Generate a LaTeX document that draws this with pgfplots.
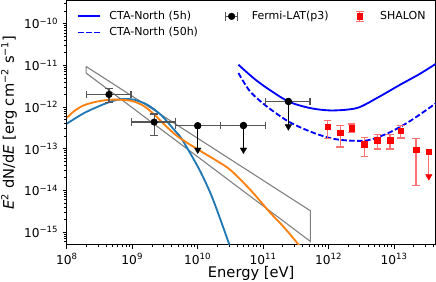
\documentclass[border=0pt]{standalone}
\usepackage{fontspec}
\setmainfont{DejaVu Sans}
\usepackage{pgfplots}
\usepackage{pgfplotstable}
\pgfplotsset{compat=1.18}
\definecolor{tabblue}{HTML}{1F77B4}
\definecolor{taborange}{HTML}{FF7F0E}
\definecolor{errgray}{HTML}{555555}
\definecolor{errred}{HTML}{FF7070}
\newcommand{\sups}[1]{\textsuperscript{#1}}

\pgfplotstableread{
x y xp xm yp ym xlo xhi ylo yhi
4.4e8 2.0e-12 5.2e8 2.4e8 0.75e-12 0.7e-12 2.0e8 9.6e8 1.3e-12 2.75e-12
2.16e9 4.36e-13 2.47e9 1.18e9 2.44e-13 2.28e-13 9.8e8 4.63e9 2.08e-13 6.8e-13
}\fermidet

\pgfplotstableread{
x y xp xm ym yend xlo xhi
1.0e10 3.56e-13 1.25e10 5.37e9 2.62e-13 9.4e-14 4.63e9 2.25e10
5.0e10 3.6e-13 6.0e10 2.75e10 2.66e-13 9.4e-14 2.25e10 1.1e11
2.43e11 1.36e-12 2.77e11 1.33e11 1.02e-12 3.4e-13 1.1e11 5.2e11
}\fermiul

\pgfplotstableread{
x y yp ym ylo yhi
9.7e11 3.31e-13 1.46e-13 1.58e-13 1.73e-13 4.77e-13
1.50e12 2.38e-13 1.24e-13 1.28e-13 1.10e-13 3.62e-13
2.26e12 3.13e-13 0.78e-13 0.67e-13 2.46e-13 3.91e-13
3.52e12 1.29e-13 0.57e-13 0.65e-13 0.64e-13 1.86e-13
5.57e12 1.58e-13 0.58e-13 0.60e-13 0.98e-13 2.16e-13
8.7e12 1.58e-13 0.62e-13 0.60e-13 0.98e-13 2.20e-13
1.27e13 2.70e-13 0.86e-13 0.90e-13 1.80e-13 3.56e-13
2.17e13 9.4e-14 7.9e-14 8.11e-14 1.29e-14 1.73e-13
}\shalon

\pgfplotstableread{
x y ym yend
3.4e13 8.45e-14 6.29e-14 2.16e-14
}\shalonul

\begin{document}
\begin{tikzpicture}
\begin{axis}[
  name=ax,
  xmode=log, ymode=log,
  scale only axis, width=301.9pt, height=200pt,
  xmin=1e8, xmax=4.3e13, ymin=4.96e-16, ymax=3.6e-10,
  axis line style={line width=0.8pt},
  tick align=outside, xtick pos=bottom, ytick pos=left,
  major tick length=3.5pt, minor tick length=2pt,
  every major tick/.append style={line width=0.8pt, black},
  every minor tick/.append style={line width=0.6pt, black},
  xtick={1e8,1e9,1e10,1e11,1e12,1e13},
  xticklabels={10\sups{8},10\sups{9},10\sups{10},10\sups{11},10\sups{12},10\sups{13}},
  ytick={1e-15,1e-14,1e-13,1e-12,1e-11,1e-10},
  yticklabels={10\sups{−15},10\sups{−14},10\sups{−13},10\sups{−12},10\sups{−11},10\sups{−10}},
  minor xtick={2e8,3e8,4e8,5e8,6e8,7e8,8e8,9e8,2e9,3e9,4e9,5e9,6e9,7e9,8e9,9e9,2e10,3e10,4e10,5e10,6e10,7e10,8e10,9e10,2e11,3e11,4e11,5e11,6e11,7e11,8e11,9e11,2e12,3e12,4e12,5e12,6e12,7e12,8e12,9e12,2e13,3e13,4e13},
  minor ytick={6e-16,7e-16,8e-16,9e-16,2e-15,3e-15,4e-15,5e-15,6e-15,7e-15,8e-15,9e-15,2e-14,3e-14,4e-14,5e-14,6e-14,7e-14,8e-14,9e-14,2e-13,3e-13,4e-13,5e-13,6e-13,7e-13,8e-13,9e-13,2e-12,3e-12,4e-12,5e-12,6e-12,7e-12,8e-12,9e-12,2e-11,3e-11,4e-11,5e-11,6e-11,7e-11,8e-11,9e-11,2e-10,3e-10},
  ticklabel style={font=\fontsize{10}{12}\selectfont},
  xlabel={Energy [eV]},
  ylabel={\textit{E}\sups{2} dN/d\textit{E} [erg cm\sups{−2} s\sups{−1}]},
  label style={font=\fontsize{12}{14}\selectfont},
  xlabel style={at={(axis description cs:0.5,-0.134)}, anchor=base},
  ylabel style={at={(axis description cs:-0.1567,0.5)}, anchor=center},
  legend columns=3,
  legend cell align=left,
  legend style={at={(axis description cs:0,1)}, anchor=north west, xshift=8.4pt, yshift=-8.3pt,
    draw=none, fill=none, inner sep=0pt, font=\fontsize{9}{11}\selectfont,
    row sep=4.5pt, nodes={inner sep=0pt, text height=6.6pt, text depth=1.9pt},
    /tikz/every even column/.append style={column sep=22pt}},
]
% Fermi butterfly
\addplot[gray, line width=0.9pt, forget plot] coordinates {(1.97e8,9.4e-12) (5.27e11,3.24e-15) (5.27e11,5.96e-16) (1.97e8,6.55e-12) (1.97e8,9.4e-12)};
% model curves
\addplot[tabblue, line width=1.5pt, smooth, forget plot] coordinates {
(1.00e8,3.98e-13) (1.84e8,7.18e-13) (3.72e8,1.18e-12) (5.93e8,1.50e-12) (7.94e8,1.55e-12) (1.07e9,1.50e-12) (1.70e9,1.135e-12) (2.73e9,6.53e-13) (4.36e9,2.85e-13) (5.38e9,1.97e-13) (7.66e9,7.87e-14) (1.10e10,2.82e-14) (1.55e10,8.91e-15) (2.00e10,3.16e-15) (3.05e10,4.97e-16) (3.55e10,2.5e-16)};
\addplot[taborange, line width=1.5pt, smooth, forget plot] coordinates {
(1.00e8,5.50e-13) (1.29e8,7.94e-13) (1.82e8,1.10e-12) (2.95e8,1.36e-12) (4.68e8,1.50e-12) (7.50e8,1.48e-12) (1.07e9,1.35e-12) (1.51e9,1.05e-12) (2.14e9,6.76e-13) (3.09e9,3.80e-13) (4.79e9,2.04e-13) (7.59e9,1.26e-13) (1.23e10,7.94e-14) (2.00e10,5.01e-14) (3.16e10,3.09e-14) (6.31e10,1.05e-14) (1.29e11,2.88e-15) (2.04e11,1.35e-15) (3.47e11,5.01e-16) (4.17e11,3.4e-16)};
% CTA sensitivities
\addplot[blue, line width=1.5pt, smooth, forget plot] coordinates {
(4.19e10,1.035e-11) (7.1e10,4.97e-12) (1.14e11,2.86e-12) (2.43e11,1.36e-12) (5.21e11,9.46e-13) (1.12e12,8.28e-13) (2.70e12,9.46e-13) (5.45e12,1.64e-12) (1.24e13,3.43e-12) (2.50e13,6.31e-12) (4.39e13,1.10e-11)};
\addplot[blue, line width=1.5pt, dash pattern=on 4.5pt off 2pt, smooth, forget plot] coordinates {
(4.19e10,6.55e-12) (6.31e10,2.37e-12) (1.14e11,1.03e-12) (2.43e11,4.51e-13) (5.21e11,2.59e-13) (1.05e12,1.80e-13) (1.90e12,1.58e-13) (3.84e12,1.58e-13) (7.74e12,2.29e-13) (1.57e13,4.13e-13) (3.16e13,8.61e-13) (4.39e13,1.25e-12)};
% Fermi caps
\addplot[only marks, mark=|, errgray, mark size=3pt, mark options={line width=1pt}, forget plot] table[x=xlo, y=y] {\fermidet};
\addplot[only marks, mark=|, errgray, mark size=3pt, mark options={line width=1pt}, forget plot] table[x=xhi, y=y] {\fermidet};
\addplot[only marks, mark=-, errgray, mark size=3pt, mark options={line width=1pt}, forget plot] table[x=x, y=ylo] {\fermidet};
\addplot[only marks, mark=-, errgray, mark size=3pt, mark options={line width=1pt}, forget plot] table[x=x, y=yhi] {\fermidet};
\addplot[only marks, mark=|, errgray, mark size=3pt, mark options={line width=1pt}, forget plot] table[x=xlo, y=y] {\fermiul};
\addplot[only marks, mark=|, errgray, mark size=3pt, mark options={line width=1pt}, forget plot] table[x=xhi, y=y] {\fermiul};
% Fermi points
\addplot[only marks, mark=*, black, mark size=2.7pt, forget plot,
  error bars/.cd, x dir=both, x explicit, y dir=both, y explicit, error mark=none,
  error bar style={errgray, line width=1pt}]
  table[x=x, y=y, x error plus=xp, x error minus=xm, y error plus=yp, y error minus=ym] {\fermidet};
\addplot[only marks, mark=*, black, mark size=2.7pt, forget plot,
  error bars/.cd, x dir=both, x explicit, error mark=none,
  error bar style={errgray, line width=1pt}]
  table[x=x, y=y, x error plus=xp, x error minus=xm] {\fermiul};
\addplot[only marks, mark=*, black, mark size=2.7pt, forget plot,
  error bars/.cd, y dir=minus, y explicit, error mark=none,
  error bar style={black, line width=1pt}]
  table[x=x, y=y, y error minus=ym] {\fermiul};
\addplot[only marks, mark=triangle*, black, mark size=3pt, mark options={rotate=180}, forget plot]
  table[x=x, y=yend] {\fermiul};
% SHALON caps
\addplot[only marks, mark=-, errred, mark size=3pt, mark options={line width=1pt}, forget plot] table[x=x, y=ylo] {\shalon};
\addplot[only marks, mark=-, errred, mark size=3pt, mark options={line width=1pt}, forget plot] table[x=x, y=yhi] {\shalon};
% SHALON
\addplot[only marks, mark=square*, red, mark size=2.2pt, forget plot,
  error bars/.cd, y dir=both, y explicit, error mark=none,
  error bar style={errred, line width=1pt}]
  table[x=x, y=y, y error plus=yp, y error minus=ym] {\shalon};
\addplot[only marks, mark=square*, red, mark size=2.2pt, forget plot,
  error bars/.cd, y dir=minus, y explicit, error mark=none,
  error bar style={errred, line width=1pt}]
  table[x=x, y=y, y error minus=ym] {\shalonul};
\addplot[only marks, mark=triangle*, red, mark size=3pt, mark options={rotate=180}, forget plot]
  table[x=x, y=yend] {\shalonul};
% legend
\addlegendimage{legend image code/.code={\draw[blue, line width=1.5pt] (0pt,0pt) -- (18pt,0pt); \path (25.4pt,0pt);}}
\addlegendentry{CTA-North (5h)}
\addlegendimage{legend image code/.code={\draw[errgray, line width=1pt] (4pt,0pt) -- (14pt,0pt) (4pt,-3.5pt) -- (4pt,3.5pt) (14pt,-3.5pt) -- (14pt,3.5pt); \fill[black] (9pt,0pt) circle (2.7pt); \path (25.4pt,0pt);}}
\addlegendentry{Fermi-LAT(p3)}
\addlegendimage{legend image code/.code={\draw[errred, line width=1pt] (9pt,-4pt) -- (9pt,4pt) (6pt,-4pt) -- (12pt,-4pt) (6pt,4pt) -- (12pt,4pt); \fill[red] (6.8pt,-2.2pt) rectangle (11.2pt,2.2pt); \path (25.4pt,0pt);}}
\addlegendentry{SHALON}
\addlegendimage{legend image code/.code={\draw[blue, line width=1.5pt, dash pattern=on 4.5pt off 2pt] (0pt,0pt) -- (18pt,0pt); \path (25.4pt,0pt);}}
\addlegendentry{CTA-North (50h)}
\end{axis}
\pgfresetboundingbox
\path[use as bounding box] ([xshift=-54.7pt,yshift=-30.3pt]ax.south west) rectangle ([xshift=0.4pt,yshift=0.4pt]ax.north east);
\end{tikzpicture}
\end{document}
